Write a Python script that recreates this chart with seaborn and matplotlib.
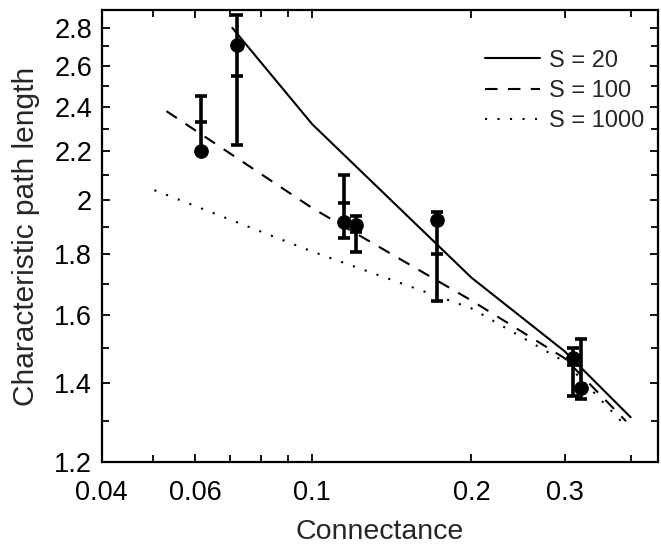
import seaborn as sns
import matplotlib.pyplot as plt
import matplotlib.ticker as mticker
import pandas as pd
import numpy as np

# model curves
x_s20 = [0.0706, 0.1, 0.2, 0.3, 0.4]
y_s20 = [2.80, 2.32, 1.72, 1.49, 1.31]
x_s100 = [0.053, 0.1, 0.2, 0.3, 0.392]
y_s100 = [2.38, 1.97, 1.645, 1.47, 1.30]
x_s1000 = [0.0503, 0.1, 0.2, 0.3, 0.39]
y_s1000 = [2.04, 1.81, 1.62, 1.46, 1.29]

# observed food webs
web_x = [0.0617, 0.0721, 0.1148, 0.1208, 0.1725, 0.311, 0.322]
web_y = [2.20, 2.71, 1.917, 1.906, 1.924, 1.47, 1.386]
bar_low = [2.20, 2.23, 1.86, 1.81, 1.643, 1.365, 1.357]
bar_mid = [2.33, 2.55, 1.99, 1.88, 1.80, 1.45, 1.39]
bar_high = [2.45, 2.87, 2.10, 1.94, 1.955, 1.50, 1.525]

x_ticks = [0.04, 0.06, 0.1, 0.2, 0.3]
x_labels = ["0.04", "0.06", "0.1", "0.2", "0.3"]
y_ticks = [1.2, 1.4, 1.6, 1.8, 2.0, 2.2, 2.4, 2.6, 2.8]
y_labels = ["1.2", "1.4", "1.6", "1.8", "2", "2.2", "2.4", "2.6", "2.8"]

sns.set_theme(style="ticks")
plt.rcParams['font.family'] = ['Liberation Sans', 'DejaVu Sans']

lines = pd.concat([
    pd.DataFrame({"C": x_s20, "L": y_s20, "S": "S = 20"}),
    pd.DataFrame({"C": x_s100, "L": y_s100, "S": "S = 100"}),
    pd.DataFrame({"C": x_s1000, "L": y_s1000, "S": "S = 1000"}),
])

fig = plt.figure(figsize=(6.61, 5.47), dpi=100)
ax = fig.add_axes([0.154, 0.155, 0.841, 0.827])
ax.set_xscale("log")
ax.set_yscale("log")

sns.lineplot(data=lines, x="C", y="L", style="S", color="black", linewidth=1.5,
             dashes={"S = 20": "", "S = 100": (6, 5), "S = 1000": (1, 5)},
             sort=False, ax=ax)

ax.errorbar(web_x, bar_mid,
            yerr=[np.array(bar_mid) - np.array(bar_low), np.array(bar_high) - np.array(bar_mid)],
            fmt="none", ecolor="black", elinewidth=2.6, capsize=4.5, capthick=2.6)
ax.plot(web_x, bar_mid, ls="none", marker="_", ms=9, mew=2.6, color="black")
sns.scatterplot(x=web_x, y=web_y, color="black", s=95, edgecolor="black", ax=ax, zorder=5)

ax.set_xlim(0.04, 0.45)
ax.set_ylim(1.2, 2.9)

ax.xaxis.set_major_locator(mticker.FixedLocator(x_ticks))
ax.xaxis.set_major_formatter(mticker.FixedFormatter(x_labels))
ax.xaxis.set_minor_locator(mticker.FixedLocator([0.05, 0.07, 0.08, 0.09, 0.4]))
ax.xaxis.set_minor_formatter(mticker.NullFormatter())
ax.yaxis.set_major_locator(mticker.FixedLocator(y_ticks))
ax.yaxis.set_major_formatter(mticker.FixedFormatter(y_labels))
ax.yaxis.set_minor_locator(mticker.FixedLocator([1.3, 1.5, 1.7, 1.9, 2.1, 2.3, 2.5, 2.7]))
ax.yaxis.set_minor_formatter(mticker.NullFormatter())

ax.tick_params(which="both", direction="in", top=True, right=True, width=1.3,
               labelsize=19.5, colors="black")
ax.tick_params(which="major", length=6)
ax.tick_params(which="minor", length=5)
ax.tick_params(axis="x", which="major", pad=13)
ax.tick_params(axis="y", which="major", pad=7)
for sp in ax.spines.values():
    sp.set_linewidth(1.6)
    sp.set_color("black")

ax.set_xlabel("Connectance", fontsize=20.5, labelpad=9)
ax.set_ylabel("Characteristic path length", fontsize=21.5, labelpad=10)

ax.legend(title=None, frameon=False, fontsize=17, loc="upper left",
          bbox_to_anchor=(0.702, 0.948), bbox_transform=fig.transFigure,
          handlelength=2.3, labelspacing=0.35, handletextpad=0.4, borderpad=0.4)

fig.savefig("out.png", dpi=100)
